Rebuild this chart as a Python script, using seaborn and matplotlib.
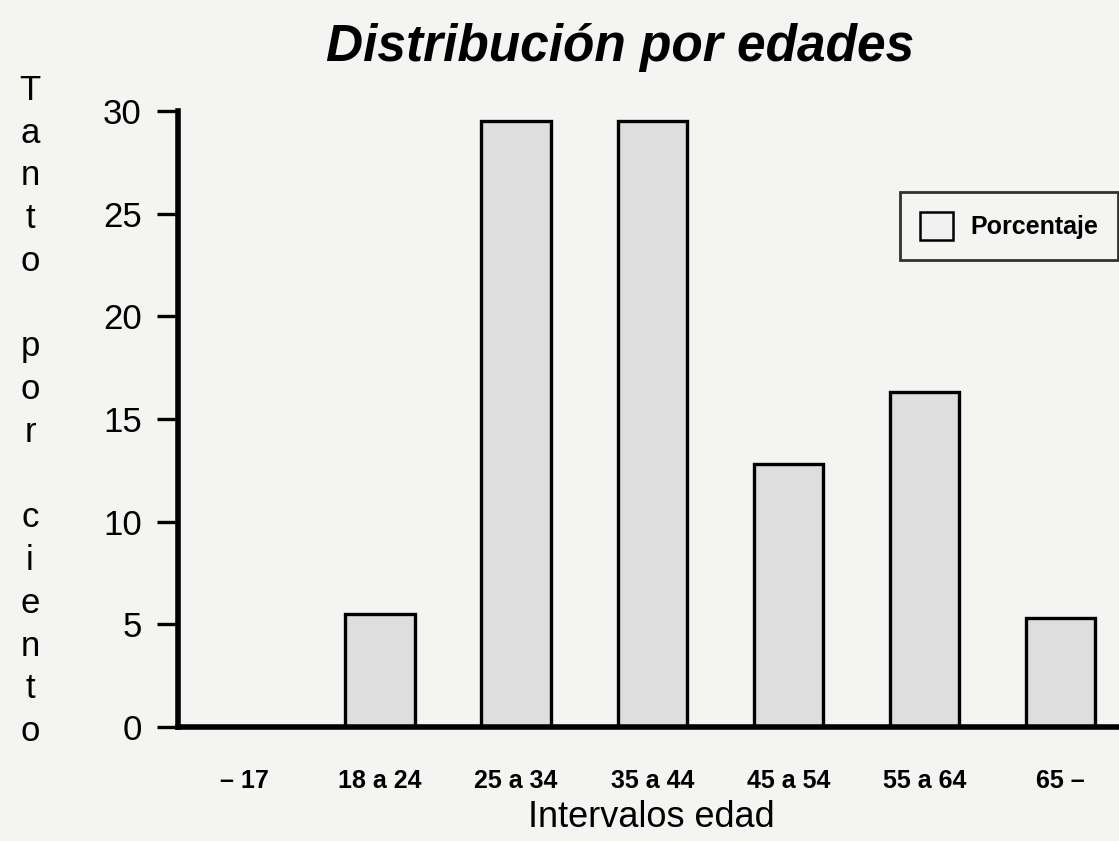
import matplotlib
matplotlib.use("Agg")
import matplotlib.pyplot as plt
from matplotlib import font_manager
from matplotlib.transforms import ScaledTranslation
import seaborn as sns
import pandas as pd

# Age brackets and share of respondents (%)
categories = ["\u2013 17", "18 a 24", "25 a 34", "35 a 44", "45 a 54", "55 a 64", "65 \u2013"]
porcentaje = [0.0, 5.5, 29.5, 29.5, 12.8, 16.3, 5.3]
y_ticks = [0, 5, 10, 15, 20, 25, 30]

title_text = "Distribución por edades"
x_title = "Intervalos edad"
y_title = "Tanto por ciento"
legend_label = "Porcentaje"

df = pd.DataFrame({"intervalo": categories, "porcentaje": porcentaje})

sns.set_theme(style="white")

names = {f.name for f in font_manager.fontManager.ttflist}
narrow = "Liberation Sans Narrow" if "Liberation Sans Narrow" in names else "Liberation Sans"
plt.rcParams["font.family"] = ["Liberation Sans", "DejaVu Sans"]
plt.rcParams["text.color"] = "black"
plt.rcParams["axes.labelcolor"] = "black"
plt.rcParams["xtick.color"] = "black"
plt.rcParams["ytick.color"] = "black"

paper = "#f4f4f2"
bar_fill = "#dedede"

fig = plt.figure(figsize=(11.19, 8.41), dpi=100, facecolor=paper)
ax = fig.add_axes([0.1591, 0.1356, 0.8409, 0.7325])
ax.set_facecolor(paper)

sns.barplot(data=df, x="intervalo", y="porcentaje", color=bar_fill,
            edgecolor="black", linewidth=2.4, width=0.51, saturation=1,
            label=legend_label, ax=ax)

ax.set_xlim(-0.485, 6.43)
ax.set_ylim(0, 30)
ax.set_yticks(y_ticks)
ax.set_yticklabels([str(t) for t in y_ticks], fontsize=25)
lift = ScaledTranslation(0, 6 / 72, fig.dpi_scale_trans)
for lab in ax.get_yticklabels():
    lab.set_transform(lab.get_transform() + lift)

for s in ("top", "right"):
    ax.spines[s].set_visible(False)
for s in ("left", "bottom"):
    ax.spines[s].set_linewidth(4.0)
    ax.spines[s].set_color("black")

ax.tick_params(axis="y", direction="out", length=15, width=2.4, color="black",
               pad=11, left=True)
ax.tick_params(axis="x", length=0, pad=30)
for lab in ax.get_xticklabels():
    lab.set_fontfamily([narrow, "DejaVu Sans"])
    lab.set_fontweight("bold")
    lab.set_fontsize(18)

ax.set_xlabel(x_title, fontsize=26)
ax.xaxis.set_label_coords((651 - 178) / (1119 - 178), -0.119)
ax.set_ylabel("")

# Vertical stacked axis title
stacked = "\n".join(" " if ch == " " else ch for ch in y_title)
fig.text(30 / 1119, 1 - 411 / 841, stacked, ha="center", va="center",
         fontsize=25, linespacing=1.375)

fig.suptitle(title_text, x=0.554, y=1 - 48 / 841, va="center",
             fontsize=37, fontweight="bold", fontstyle="italic",
             fontfamily=[narrow, "DejaVu Sans"])

leg = ax.legend(loc="upper right", bbox_to_anchor=(1118 / 1119, 1 - 192 / 841),
                bbox_transform=fig.transFigure, frameon=True, fancybox=False,
                handlelength=1.3, handleheight=1.35, handletextpad=0.7,
                borderpad=0.8, borderaxespad=0,
                prop={"family": [narrow, "DejaVu Sans"], "weight": "bold", "size": 18})
leg.get_frame().set_edgecolor("black")
leg.get_frame().set_linewidth(2.0)
leg.get_frame().set_facecolor(paper)
for h in leg.legend_handles:
    h.set_facecolor("#f0f0f0")
    h.set_linewidth(1.8)

fig.savefig("out.png", dpi=100, facecolor=paper)
